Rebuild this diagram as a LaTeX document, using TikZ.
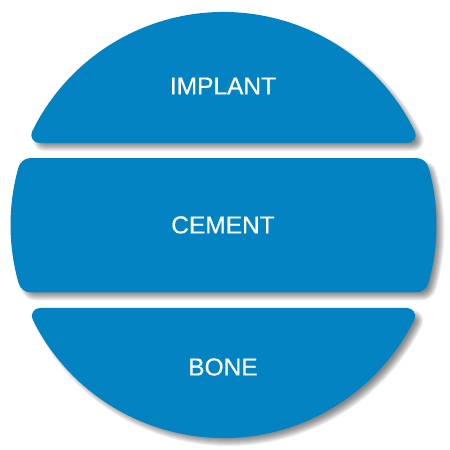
\documentclass[tikz,border=0pt]{standalone}
\usepackage{fontspec}
\newfontfamily\lblfont{Liberation Sans}[FakeBold=0.5]
\definecolor{bandblue}{RGB}{3,131,193}
\tikzset{
  lbl/.style={text=white, font=\lblfont\fontsize{24.5}{28}\selectfont, inner sep=0pt, anchor=center},
  shadowlayer/.style={draw=black, draw opacity=0.065, line join=round, line width=#1},
}
\newcommand{\implantpath}[1]{([shift={#1}, shift={(\aT:205)}]C) arc[start angle=\aT, end angle=180-\aT, radius=205] -- cycle}
\newcommand{\cementpath}[1]{([shift={#1}, shift={(\aCb:200)}]C) arc[start angle=\aCb, end angle=\aCt, radius=200] -- ([shift={#1}, shift={(180-\aCt:200)}]C) arc[start angle=180-\aCt, end angle=180-\aCb, radius=200] -- cycle}
\newcommand{\bonepath}[1]{([shift={#1}, shift={(180+\aB:205)}]C) arc[start angle=180+\aB, end angle=360-\aB, radius=205] -- cycle}
\begin{document}
\begin{tikzpicture}[x=1pt,y=1pt]
\useasboundingbox (0,0) rectangle (450,450);
\coordinate (C) at (223.5,225);
\pgfmathsetmacro\aT{asin(90/205)}
\pgfmathsetmacro\aCt{asin(54/200)}
\pgfmathsetmacro\aCb{asin(-54.5/200)}
\pgfmathsetmacro\aB{asin(91/205)}
% shadows
\foreach \w in {6,8,10,12,14,16,18,20,22}{
  \path[shadowlayer=\w pt] \implantpath{(5,-5)};
  \path[shadowlayer=\w pt] \bonepath{(5,-5)};
}
\foreach \w in {16,18,20,22,24,26,28,30,32}{
  \path[shadowlayer=\w pt] \cementpath{(5,-5)};
}
% bands
\path[fill=bandblue, draw=bandblue, line width=16pt, line join=round] \implantpath{(0,0)};
\path[fill=bandblue, draw=bandblue, line width=26pt, line join=round] \cementpath{(0,0)};
\path[fill=bandblue, draw=bandblue, line width=16pt, line join=round] \bonepath{(0,0)};
% labels
\node[lbl] (implant) at (223,364) {IMPLANT};
\node[lbl] (cement) at (223,225) {CEMENT};
\node[lbl] (bone) at (223,83) {BONE};
\end{tikzpicture}
\end{document}
